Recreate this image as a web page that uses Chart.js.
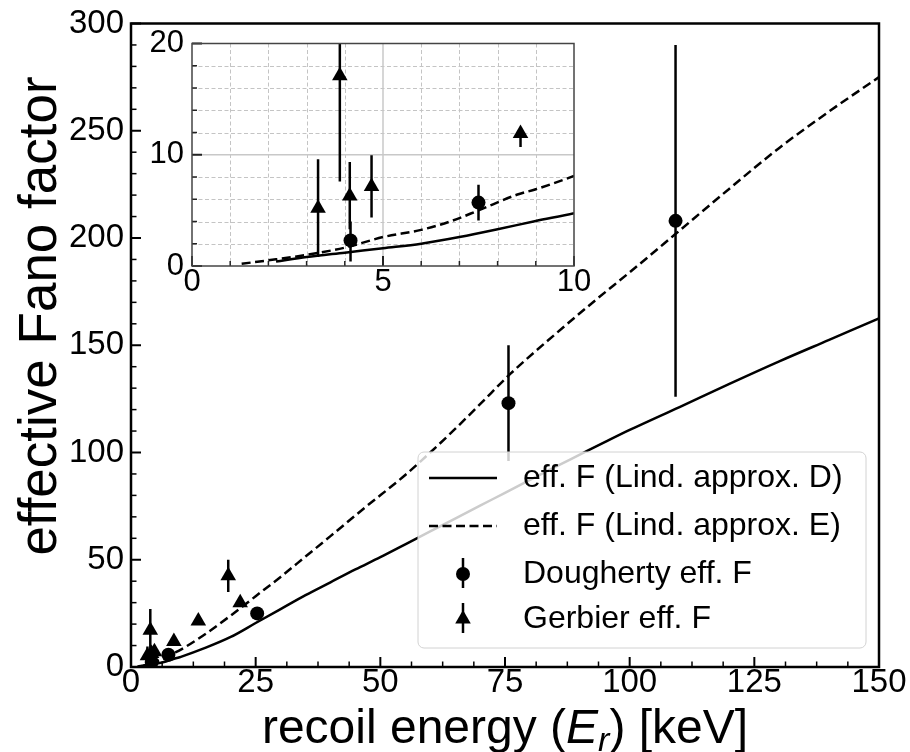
<!DOCTYPE html>
<html><head><meta charset="utf-8">
<script src="https://cdn.jsdelivr.net/npm/chart.js@4.4.1/dist/chart.umd.min.js"></script>
<style>
html,body{margin:0;padding:0;background:#fff;}
#wrap{position:relative;width:910px;height:752px;overflow:hidden;}
#main{position:absolute;left:0;top:0;}
#inset{position:absolute;left:130px;top:20px;}
</style></head><body>
<div id="wrap"><canvas id="main" width="910" height="752"></canvas><canvas id="inset" width="480" height="290"></canvas></div>
<script>
// ---------- data ----------
const curveDx = [2.2, 3, 4, 5, 6, 7, 8, 9, 10, 15, 20, 25, 30, 35, 40, 45, 50, 55, 60, 65, 70, 75, 80, 85, 90, 95, 100, 110, 120, 130, 140, 150];
const curveDy = [0.4, 0.8, 1.2, 1.6, 2.0, 2.6, 3.3, 4.05, 4.75, 9, 14, 20.5, 27, 33.5, 39.5, 45.5, 51.2, 57.2, 63.2, 69.2, 75.2, 81.2, 87.2, 93.2, 99, 104.8, 110.5, 121.2, 132, 142.5, 152.5, 162.5];
const curveEx = [1.3, 2.2, 3, 4, 5, 6, 6.8, 7.5, 8.5, 9, 10, 15, 20, 25, 30, 35, 40, 47, 55, 60, 65, 70, 76, 85, 93.4, 100, 109, 120, 130, 140, 150];
const curveEy = [0.2, 0.6, 1.0, 1.65, 2.6, 3.25, 4.05, 5.0, 6.4, 6.9, 8.1, 15.5, 24, 33, 42, 51.5, 61, 74.5, 89.5, 100, 111, 122.5, 136.5, 155, 171.5, 184, 201.5, 223, 242, 259, 275];

const doughertyX  = [4.15, 7.5, 25.3, 75.7, 109.2];
const doughertyY  = [2.3, 5.7, 25, 123, 208];
const doughertyLo = [0.4, 4.1, 23, 96, 126];
const doughertyHi = [4.0, 7.3, 27, 150, 290];

const gerbierX  = [3.3, 3.87, 4.13, 4.7, 8.6, 13.5, 19.5, 21.9];
const gerbierY  = [5.2, 17.1, 6.3, 7.15, 11.9, 21.5, 42.5, 30];
const gerbierLo = [0.8, 7.6, 3.3, 4.35, 10.7, 20.3, 35, 28.5];
const gerbierHi = [9.6, 27, 9.35, 9.95, 12.4, 22.7, 50, 31.5];

const mainXTicks = [0, 25, 50, 75, 100, 125, 150];
const mainYTicks = [0, 50, 100, 150, 200, 250, 300];
const insetXTicks = [0, 5, 10];
const insetYTicks = [0, 10, 20];

const legendLabels = ['eff. F (Lind. approx. D)', 'eff. F (Lind. approx. E)', 'Dougherty eff. F', 'Gerbier eff. F'];
const yTitle = 'effective Fano factor';
const xTitleParts = ['recoil energy (', 'E', 'r', ') [keV]'];

// ---------- helpers ----------
const FAM = '"Liberation Sans", Arial, Helvetica, sans-serif';
const pts = (xs, ys) => xs.map((x, i) => ({x: x, y: ys[i]}));

function makeDatasets() {
  return [
    {label: legendLabels[0], data: pts(curveDx, curveDy), showLine: true, pointRadius: 0, borderColor: '#000', borderWidth: 2.5, cubicInterpolationMode: 'monotone'},
    {label: legendLabels[1], data: pts(curveEx, curveEy), showLine: true, pointRadius: 0, borderColor: '#000', borderWidth: 2.5, borderDash: [9, 4.5], cubicInterpolationMode: 'monotone'},
    {label: legendLabels[2], data: pts(doughertyX, doughertyY), showLine: false, pointStyle: 'circle', pointRadius: 7, backgroundColor: '#000', borderColor: '#000', borderWidth: 0, errLo: doughertyLo, errHi: doughertyHi},
    {label: legendLabels[3], data: pts(gerbierX, gerbierY), showLine: false, pointStyle: 'triangle', pointRadius: 9, backgroundColor: '#000', borderColor: '#000', borderWidth: 0, errLo: gerbierLo, errHi: gerbierHi}
  ];
}

const errorBarPlugin = {
  id: 'errbars',
  beforeDatasetsDraw(chart) {
    const ctx = chart.ctx, a = chart.chartArea, xs = chart.scales.x, ys = chart.scales.y;
    ctx.save();
    ctx.beginPath(); ctx.rect(a.left, a.top, a.right - a.left, a.bottom - a.top); ctx.clip();
    ctx.strokeStyle = '#000'; ctx.lineWidth = 2.5;
    chart.data.datasets.forEach(ds => {
      if (!ds.errLo) return;
      ds.data.forEach((p, i) => {
        const px = xs.getPixelForValue(p.x);
        ctx.beginPath();
        ctx.moveTo(px, ys.getPixelForValue(ds.errLo[i]));
        ctx.lineTo(px, ys.getPixelForValue(ds.errHi[i]));
        ctx.stroke();
      });
    });
    ctx.restore();
  }
};

function frameTicksPlugin(cfg) {
  return {
    id: 'frameTicks' + cfg.name,
    beforeDraw(chart) {
      if (!cfg.bg) return;
      const ctx = chart.ctx, a = chart.chartArea;
      ctx.save(); ctx.fillStyle = '#fff';
      ctx.fillRect(a.left, a.top, a.right - a.left, a.bottom - a.top);
      ctx.restore();
    },
    beforeDatasetsDraw(chart) {
      if (!cfg.grid) return;
      const ctx = chart.ctx, a = chart.chartArea, xs = chart.scales.x, ys = chart.scales.y;
      ctx.save();
      const g = cfg.grid;
      ctx.strokeStyle = '#c4c4c4'; ctx.lineWidth = 1; ctx.setLineDash([4, 2.5]);
      for (let v = xs.min + g.xMinor; v < xs.max - 1e-9; v += g.xMinor) {
        if (Math.abs(v / g.xMajor - Math.round(v / g.xMajor)) < 1e-6) continue;
        const px = Math.round(xs.getPixelForValue(v)) + 0.5;
        ctx.beginPath(); ctx.moveTo(px, a.top); ctx.lineTo(px, a.bottom); ctx.stroke();
      }
      for (let v = ys.min + g.yMinor; v < ys.max - 1e-9; v += g.yMinor) {
        if (Math.abs(v / g.yMajor - Math.round(v / g.yMajor)) < 1e-6) continue;
        const py = Math.round(ys.getPixelForValue(v)) + 0.5;
        ctx.beginPath(); ctx.moveTo(a.left, py); ctx.lineTo(a.right, py); ctx.stroke();
      }
      ctx.setLineDash([]); ctx.strokeStyle = '#c8c8c8'; ctx.lineWidth = 1.5;
      for (let v = xs.min + g.xMajor; v < xs.max - 1e-9; v += g.xMajor) {
        const px = xs.getPixelForValue(v);
        ctx.beginPath(); ctx.moveTo(px, a.top); ctx.lineTo(px, a.bottom); ctx.stroke();
      }
      for (let v = ys.min + g.yMajor; v < ys.max - 1e-9; v += g.yMajor) {
        const py = ys.getPixelForValue(v);
        ctx.beginPath(); ctx.moveTo(a.left, py); ctx.lineTo(a.right, py); ctx.stroke();
      }
      ctx.restore();
    },
    afterDraw(chart) {
      const ctx = chart.ctx, a = chart.chartArea, xs = chart.scales.x, ys = chart.scales.y;
      ctx.save();
      ctx.strokeStyle = cfg.tickColor;
      const isMajor = (v, step) => Math.abs(v / step - Math.round(v / step)) < 1e-6;
      for (let v = xs.min; v <= xs.max + 1e-9; v += cfg.xMinor) {
        const major = isMajor(v, cfg.xMajor);
        const px = xs.getPixelForValue(v);
        ctx.lineWidth = major ? cfg.majW : cfg.minW;
        ctx.beginPath(); ctx.moveTo(px, a.bottom); ctx.lineTo(px, a.bottom - (major ? cfg.majL : cfg.minL)); ctx.stroke();
      }
      for (let v = ys.min; v <= ys.max + 1e-9; v += cfg.yMinor) {
        const major = isMajor(v, cfg.yMajor);
        const py = ys.getPixelForValue(v);
        ctx.lineWidth = major ? cfg.majW : cfg.minW;
        ctx.beginPath(); ctx.moveTo(a.left, py); ctx.lineTo(a.left + (major ? cfg.majL : cfg.minL), py); ctx.stroke();
      }
      ctx.strokeStyle = cfg.frameColor; ctx.lineWidth = cfg.frameW;
      ctx.strokeRect(a.left, a.top, a.right - a.left, a.bottom - a.top);
      ctx.restore();
    }
  };
}

function drawMarker(ctx, style, x, y) {
  ctx.fillStyle = '#000';
  if (style === 'circle') {
    ctx.beginPath(); ctx.arc(x, y, 7, 0, Math.PI * 2); ctx.fill();
  } else {
    const r = 9;
    ctx.beginPath();
    ctx.moveTo(x, y - r);
    ctx.lineTo(x + r * Math.sin(2 * Math.PI / 3), y - r * Math.cos(2 * Math.PI / 3));
    ctx.lineTo(x + r * Math.sin(4 * Math.PI / 3), y - r * Math.cos(4 * Math.PI / 3));
    ctx.closePath(); ctx.fill();
  }
}

const mainDecorPlugin = {
  id: 'mainDecor',
  afterDraw(chart) {
    const ctx = chart.ctx, a = chart.chartArea;
    ctx.save();
    // legend
    const lx = 418, ly = 452, lw = 448, lh = 196;
    ctx.beginPath();
    if (ctx.roundRect) ctx.roundRect(lx, ly, lw, lh, 6); else ctx.rect(lx, ly, lw, lh);
    ctx.fillStyle = 'rgba(255,255,255,0.8)'; ctx.fill();
    ctx.strokeStyle = '#d2d2d2'; ctx.lineWidth = 1; ctx.stroke();
    const rows = [478, 526, 574, 619];
    ctx.strokeStyle = '#000'; ctx.lineWidth = 2.5;
    ctx.beginPath(); ctx.moveTo(429, rows[0]); ctx.lineTo(497, rows[0]); ctx.stroke();
    ctx.setLineDash([9, 4.5]);
    ctx.beginPath(); ctx.moveTo(429, rows[1]); ctx.lineTo(497, rows[1]); ctx.stroke();
    ctx.setLineDash([]);
    [2, 3].forEach(k => {
      ctx.beginPath(); ctx.moveTo(463, rows[k] - 16); ctx.lineTo(463, rows[k] + 14); ctx.stroke();
      drawMarker(ctx, k === 2 ? 'circle' : 'triangle', 463, rows[k]);
    });
    ctx.fillStyle = '#000'; ctx.font = '32px ' + FAM; ctx.textBaseline = 'middle'; ctx.textAlign = 'left';
    legendLabels.forEach((t, k) => ctx.fillText(t, 523, rows[k]));

    // x title
    const cx = (a.left + a.right) / 2, base = 743;
    const fN = '48px ' + FAM, fI = 'italic 48px ' + FAM, fS = 'italic 34px ' + FAM;
    const fonts = [fN, fI, fS, fN];
    const dys = [0, 0, 8, 0];
    const widths = xTitleParts.map((t, i) => { ctx.font = fonts[i]; return ctx.measureText(t).width; });
    const tot = widths.reduce((s, w) => s + w, 0);
    let x = cx - tot / 2;
    ctx.textAlign = 'left'; ctx.textBaseline = 'alphabetic';
    xTitleParts.forEach((t, i) => { ctx.font = fonts[i]; ctx.fillText(t, x, base + dys[i]); x += widths[i]; });

    // y title
    ctx.translate(56, 316); ctx.rotate(-Math.PI / 2);
    ctx.font = '53px ' + FAM; ctx.textAlign = 'center';
    ctx.fillText(yTitle, 0, 0);
    ctx.restore();
  }
};

// ---------- main chart ----------
new Chart(document.getElementById('main'), {
  type: 'scatter',
  data: {datasets: makeDatasets()},
  options: {
    responsive: false, animation: false, devicePixelRatio: 1,
    layout: {padding: {left: 0, top: 17, right: 31, bottom: 0}},
    plugins: {legend: {display: false}, tooltip: {enabled: false}},
    scales: {
      x: {
        type: 'linear', min: 0, max: 150,
        afterBuildTicks: s => { s.ticks = mainXTicks.map(v => ({value: v})); },
        afterFit: s => { s.height = 85; },
        ticks: {autoSkip: false, maxRotation: 0, padding: -1, color: '#000', font: {family: FAM, size: 33, lineHeight: 1}},
        grid: {drawOnChartArea: false, drawTicks: false},
        border: {display: false}
      },
      y: {
        type: 'linear', min: 0, max: 300,
        afterBuildTicks: s => { s.ticks = mainYTicks.map(v => ({value: v})); },
        afterFit: s => { s.width = 131; },
        ticks: {autoSkip: false, padding: 7, color: '#000', font: {family: FAM, size: 33, lineHeight: 1}},
        grid: {drawOnChartArea: false, drawTicks: false},
        border: {display: false}
      }
    }
  },
  plugins: [frameTicksPlugin({name: 'm', bg: false, grid: null, tickColor: '#000', frameColor: '#000', frameW: 2.5,
    xMajor: 25, xMinor: 6.25, yMajor: 50, yMinor: 10, majL: 10, minL: 5.5, majW: 2, minW: 1.5}), errorBarPlugin, mainDecorPlugin]
});

// ---------- inset chart ----------
new Chart(document.getElementById('inset'), {
  type: 'scatter',
  data: {datasets: makeDatasets()},
  options: {
    responsive: false, animation: false, devicePixelRatio: 1,
    layout: {padding: {left: 0, top: 19.5, right: 36, bottom: 0}},
    plugins: {legend: {display: false}, tooltip: {enabled: false}},
    scales: {
      x: {
        type: 'linear', min: 0, max: 10,
        afterBuildTicks: s => { s.ticks = insetXTicks.map(v => ({value: v})); },
        afterFit: s => { s.height = 44; },
        ticks: {autoSkip: false, maxRotation: 0, padding: 1, color: '#000', font: {family: FAM, size: 31, lineHeight: 1}},
        grid: {drawOnChartArea: false, drawTicks: false},
        border: {display: false}
      },
      y: {
        type: 'linear', min: 0, max: 20,
        afterBuildTicks: s => { s.ticks = insetYTicks.map(v => ({value: v})); },
        afterFit: s => { s.width = 62; },
        ticks: {autoSkip: false, padding: 8, color: '#000', font: {family: FAM, size: 31, lineHeight: 1}},
        grid: {drawOnChartArea: false, drawTicks: false},
        border: {display: false}
      }
    }
  },
  plugins: [frameTicksPlugin({name: 'i', bg: true, grid: {xMajor: 5, xMinor: 1, yMajor: 10, yMinor: 2}, tickColor: '#222', frameColor: '#444', frameW: 1.5,
    xMajor: 5, xMinor: 1, yMajor: 10, yMinor: 2, majL: 10, minL: 5, majW: 2, minW: 1.5}), errorBarPlugin]
});
</script>
</body></html>
